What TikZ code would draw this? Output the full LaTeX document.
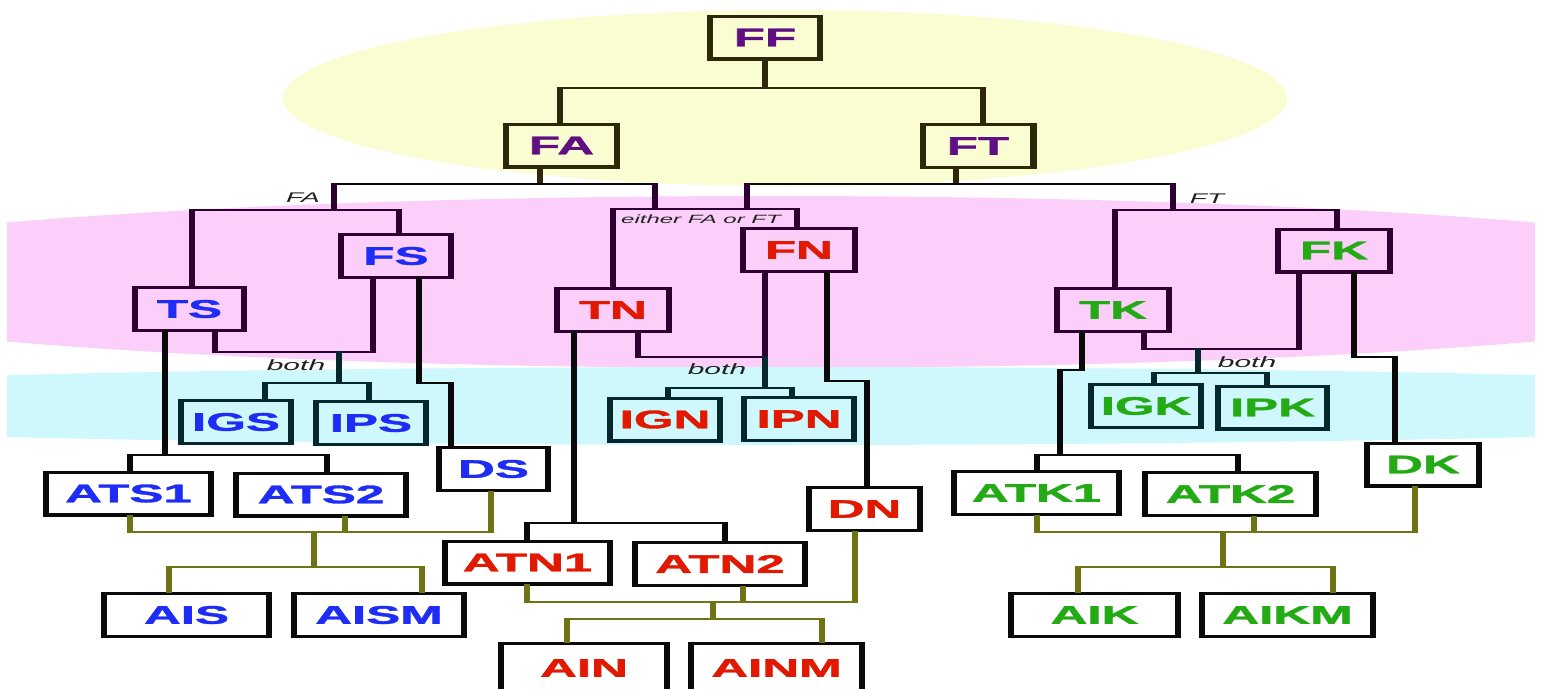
\documentclass[tikz,border=0pt]{standalone}
\usepackage{fontspec}
\newfontfamily\bxf{Liberation Sans}
\newfontfamily\bxb{Liberation Sans Bold}[FakeBold=1.3]
\definecolor{yelc}{RGB}{250,252,210}
\definecolor{pinkc}{RGB}{252,206,250}
\definecolor{cyanc}{RGB}{206,248,252}
\definecolor{purpt}{RGB}{95,15,130}
\definecolor{bluet}{RGB}{30,45,245}
\definecolor{redt}{RGB}{225,25,0}
\definecolor{greent}{RGB}{35,170,20}
\definecolor{ybord}{RGB}{45,40,10}
\definecolor{pbord}{RGB}{45,0,50}
\definecolor{cbord}{RGB}{5,40,45}
\definecolor{kbord}{RGB}{10,10,10}
\definecolor{olivec}{RGB}{110,115,20}
\definecolor{labc}{RGB}{35,35,35}
\tikzset{
  nbox/.style={rectangle, draw, line width=3.2pt, inner sep=0pt, minimum height=42.8pt,
    font=\bxb\fontsize{25.5}{25.5}\selectfont},
  bw/.style={minimum width={#1/2-3.2}},
  ybox/.style={nbox, draw=ybord, fill=yelc, text=purpt},
  pbox/.style={nbox, draw=pbord, fill=pinkc},
  cbox/.style={nbox, draw=cbord, fill=cyanc},
  wbox/.style={nbox, draw=kbord, fill=white},
  ln/.style={line width=2.8pt, line cap=rect, line join=miter},
  lab/.style={font=\bxf\itshape\fontsize{#1}{#1}\selectfont, text=labc, inner sep=0pt},
}
\begin{document}
\begin{tikzpicture}[x=1pt,y=-1pt]
\useasboundingbox (0,0) rectangle (1541,688);
\fill[white] (0,0) rectangle (1541,688);
% bands
\begin{scope}
  \clip (7,0) rectangle (1535,688);
  \fill[pinkc] (771,282) ellipse [x radius=1058pt, y radius=86pt];
  \fill[cyanc] (771,406) ellipse [x radius=1259pt, y radius=39pt];
\end{scope}
\fill[yelc] (785,98) ellipse [x radius=502pt, y radius=88pt];

\begin{scope}[x=0.5pt, transform canvas={xscale=2}]
% nodes
\node[ybox,bw=116] (FF) at (765,37.5) {FF};
\node[ybox,bw=117] (FA) at (561.5,145.5) {FA};
\node[ybox,bw=117] (FT) at (978,146) {FT};
\node[pbox,bw=115,text=bluet] (TS) at (189.5,309) {TS};
\node[pbox,bw=116,text=bluet] (FS) at (396,256) {FS};
\node[pbox,bw=118,text=redt] (TN) at (613,310) {TN};
\node[pbox,bw=118,text=redt] (FN) at (799,250) {FN};
\node[pbox,bw=118,text=greent] (TK) at (1113,310) {TK};
\node[pbox,bw=118,text=greent] (FK) at (1334,250.5) {FK};
\node[cbox,bw=116,text=bluet] (IGS) at (236,422) {IGS};
\node[cbox,bw=116,text=bluet] (IPS) at (371,423) {IPS};
\node[cbox,bw=116,text=redt] (IGN) at (665,419.5) {IGN};
\node[cbox,bw=116,text=redt] (IPN) at (799,419) {IPN};
\node[cbox,bw=116,text=greent] (IGK) at (1146,406) {IGK};
\node[cbox,bw=115,text=greent] (IPK) at (1272.5,407.5) {IPK};
\node[wbox,bw=115,text=bluet] (DS) at (493.5,469) {DS};
\node[wbox,bw=171,text=bluet] (ATS1) at (128.5,493.5) {ATS1};
\node[wbox,bw=176,text=bluet] (ATS2) at (321,494.5) {ATS2};
\node[wbox,bw=171,text=bluet] (AIS) at (186.5,615) {AIS};
\node[wbox,bw=176,text=bluet] (AISM) at (379,615) {AISM};
\node[wbox,bw=171,text=redt] (ATN1) at (527.5,562.5) {ATN1};
\node[wbox,bw=176,text=redt] (ATN2) at (720,564) {ATN2};
\node[wbox,bw=117,text=redt] (DN) at (864.5,509) {DN};
\node[wbox,bw=172,text=redt,minimum height=48.8pt] (AIN) at (584,668) {AIN};
\node[wbox,bw=177,text=redt,minimum height=48.8pt] (AINM) at (776.5,668) {AINM};
\node[wbox,bw=171,text=greent] (ATK1) at (1036.5,493) {ATK1};
\node[wbox,bw=177,text=greent] (ATK2) at (1230.5,494) {ATK2};
\node[wbox,bw=118,text=greent] (DK) at (1423,464.5) {DK};
\node[wbox,bw=173,text=greent] (AIK) at (1094.5,615) {AIK};
\node[wbox,bw=177,text=greent] (AIKM) at (1287.5,615) {AIKM};

% labels
\node[lab=14] (lFA) at (303,198) {FA};
\node[lab=14] (lFT) at (1207,199) {FT};
\node[lab=12] (lEi) at (701,219) {either FA or FT};
\node[lab=15] (lb1) at (296,365) {both};
\node[lab=15] (lb2) at (717,369) {both};
\node[lab=15] (lb3) at (1247,362) {both};

% top connectors
\draw[ln,ybord] (FF.south) -- (765,88);
\draw[ln,ybord] (FA.north -| 560,0) -- (560,88) -- (983,88) -- (FT.north -| 983,0);
\draw[ln,ybord] (FA.south -| 540,0) -- (540,184);
\draw[ln,ybord] (FT.south -| 956,0) -- (956,184);
\draw[ln,kbord] (334,184) -- (655,184);
\draw[ln,kbord] (747,184) -- (1173,184);
% pink level
\draw[ln,pbord] (334,184) -- (334,210);
\draw[ln,pbord] (TS.north -| 192,0) -- (192,210) -- (399,210) -- (FS.north -| 399,0);
\draw[ln,pbord] (655,184) -- (655,209);
\draw[ln,pbord] (747,184) -- (747,209);
\draw[ln,pbord] (TN.north -| 613,0) -- (613,209) -- (797,209) -- (FN.north -| 797,0);
\draw[ln,pbord] (1173,184) -- (1173,210);
\draw[ln,pbord] (TK.north -| 1115,0) -- (1115,210) -- (1337,210) -- (FK.north -| 1337,0);

% S group
\draw[ln,pbord] (TS.south -| 215,0) -- (215,352) -- (373,352) -- (FS.south -| 373,0);
\draw[ln,cbord] (339,352) -- (339,383);
\draw[ln,cbord] (IGS.north -| 265,0) -- (265,383) -- (369,383) -- (IPS.north -| 369,0);
\draw[ln,kbord] (FS.south -| 419,0) -- (419,383) -- (451,383) -- (DS.north -| 451,0);
\draw[ln,kbord] (TS.south -| 165,0) -- (165,455);
\draw[ln,kbord] (ATS1.north -| 130,0) -- (130,455) -- (327,455) -- (ATS2.north -| 327,0);
\draw[ln,olivec] (ATS1.south -| 130,0) -- (130,532) -- (491,532) -- (DS.south -| 491,0);
\draw[ln,olivec] (ATS2.south -| 345,0) -- (345,532);
\draw[ln,olivec] (314,532) -- (314,567);
\draw[ln,olivec] (AIS.north -| 169,0) -- (169,567) -- (422,567) -- (AISM.north -| 422,0);

% N group
\draw[ln,pbord] (TN.south -| 638,0) -- (638,357) -- (765,357);
\draw[ln,pbord] (FN.south -| 765,0) -- (765,357);
\draw[ln,cbord] (765,357) -- (765,388);
\draw[ln,cbord] (IGN.north -| 668,0) -- (668,388) -- (792,388) -- (IPN.north -| 792,0);
\draw[ln,kbord] (FN.south -| 827,0) -- (827,381) -- (867,381) -- (DN.north -| 867,0);
\draw[ln,kbord] (TN.south -| 574,0) -- (574,523);
\draw[ln,kbord] (ATN1.north -| 527,0) -- (527,523) -- (725,523) -- (ATN2.north -| 725,0);
\draw[ln,olivec] (ATN1.south -| 527,0) -- (527,602) -- (855,602) -- (DN.south -| 855,0);
\draw[ln,olivec] (ATN2.south -| 743,0) -- (743,602);
\draw[ln,olivec] (713,602) -- (713,619);
\draw[ln,olivec] (AIN.north -| 567,0) -- (567,619) -- (822,619) -- (AINM.north -| 822,0);

% K group
\draw[ln,pbord] (TK.south -| 1144,0) -- (1144,349) -- (1299,349) -- (FK.south -| 1299,0);
\draw[ln,cbord] (1198,349) -- (1198,373);
\draw[ln,cbord] (IGK.north -| 1154,0) -- (1154,373) -- (1267,373) -- (IPK.north -| 1267,0);
\draw[ln,kbord] (FK.south -| 1354,0) -- (1354,357) -- (1395,357) -- (DK.north -| 1395,0);
\draw[ln,kbord] (TK.south -| 1082,0) -- (1082,370) -- (1060,370) -- (1060,455);
\draw[ln,kbord] (ATK1.north -| 1037,0) -- (1037,455) -- (1238,455) -- (ATK2.north -| 1238,0);
\draw[ln,olivec] (ATK1.south -| 1037,0) -- (1037,532) -- (1415,532) -- (DK.south -| 1415,0);
\draw[ln,olivec] (ATK2.south -| 1254,0) -- (1254,532);
\draw[ln,olivec] (1223,532) -- (1223,567);
\draw[ln,olivec] (AIK.north -| 1078,0) -- (1078,567) -- (1333,567) -- (AIKM.north -| 1333,0);
\end{scope}
\end{tikzpicture}
\end{document}
